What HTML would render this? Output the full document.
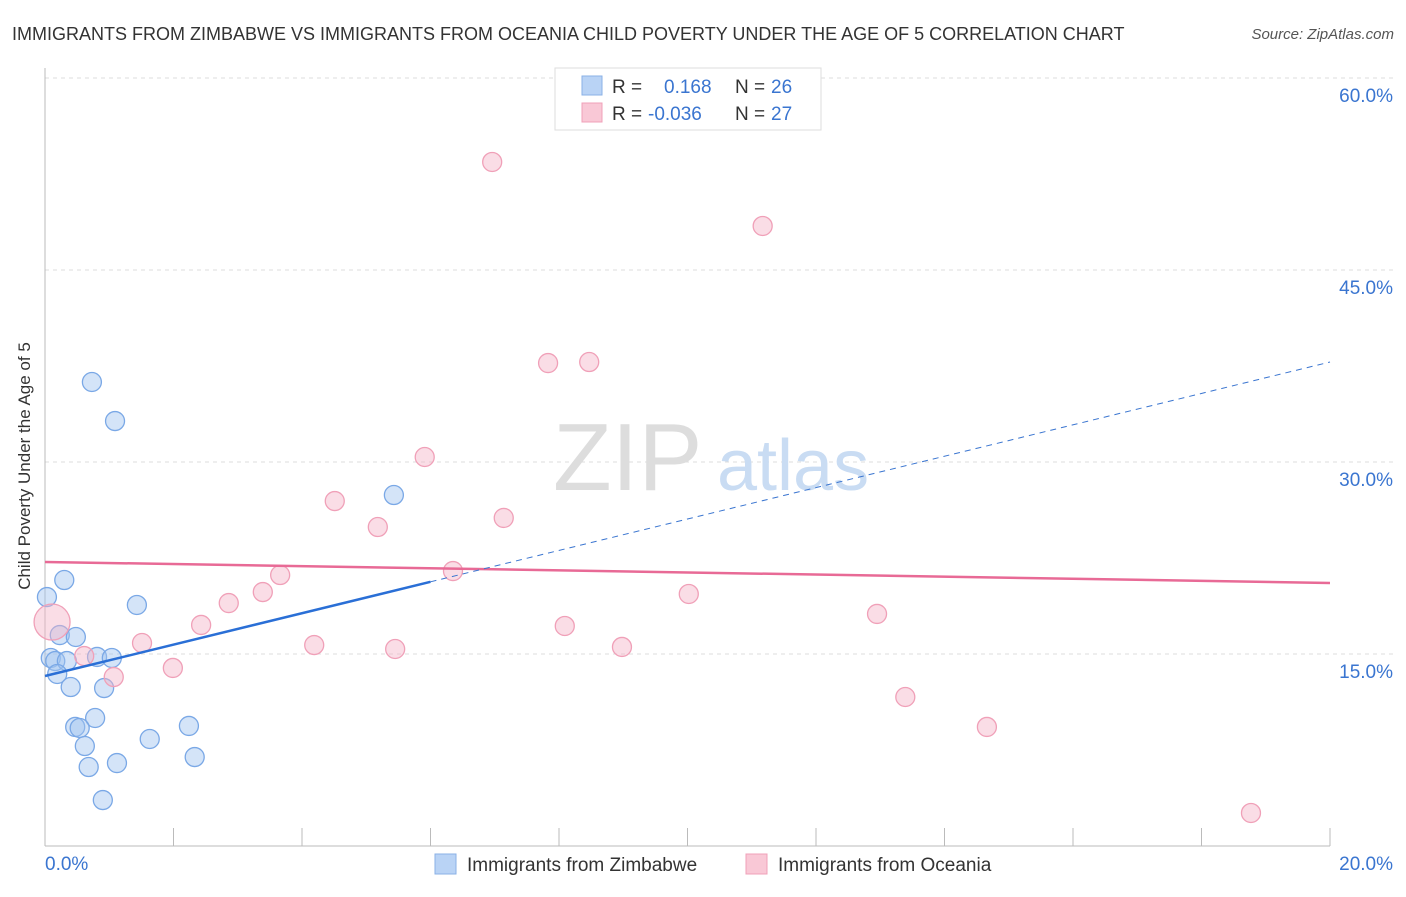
<!DOCTYPE html>
<html><head><meta charset="utf-8"><style>
body{margin:0;background:#fff;font-family:"Liberation Sans",sans-serif}
svg text{font-family:"Liberation Sans",sans-serif}
</style></head><body>
<svg width="1406" height="892">
<text x="12" y="40" font-size="18" fill="#333">IMMIGRANTS FROM ZIMBABWE VS IMMIGRANTS FROM OCEANIA CHILD POVERTY UNDER THE AGE OF 5 CORRELATION CHART</text>
<text x="1394" y="39" font-size="15" fill="#555" font-style="italic" text-anchor="end">Source: ZipAtlas.com</text>
<g id="grid"></g>
<g><text x="553" y="490" font-size="96" font-family="Liberation Serif" fill="#ddd">ZIP</text><text x="717" y="490" font-size="72" fill="#c9dcf3">atlas</text></g>
<line x1="45" y1="68" x2="45" y2="846" stroke="#bbb"/>
<line x1="45" y1="846" x2="1330" y2="846" stroke="#bbb"/>
<g id="xticks"></g>
<text x="20" y="456" font-size="17" fill="#333" transform="rotate(-90 30 456)" text-anchor="middle">Child Poverty Under the Age of 5</text>
<g id="marks"></g>
<g>
<rect x="555" y="68" width="266" height="62" fill="#fff" stroke="#ddd"/>
<rect x="582" y="76" width="20" height="19" fill="#b9d3f5" stroke="#8ab0e6"/>
<rect x="582" y="103" width="20" height="19" fill="#f9c8d6" stroke="#f0a0b8"/>
<text x="612" y="93" font-size="19" fill="#333">R =</text><text x="664" y="93" font-size="19" fill="#3a75d0">0.168</text>
<text x="735" y="93" font-size="19" fill="#333">N =</text><text x="771" y="93" font-size="19" fill="#3a75d0">26</text>
<text x="612" y="120" font-size="19" fill="#333">R =</text><text x="648" y="120" font-size="19" fill="#3a75d0">-0.036</text>
<text x="735" y="120" font-size="19" fill="#333">N =</text><text x="771" y="120" font-size="19" fill="#3a75d0">27</text>
</g>
<g>
<rect x="435" y="854" width="21" height="20" fill="#b9d3f5" stroke="#8ab0e6"/>
<text x="467" y="871" font-size="19" fill="#333">Immigrants from Zimbabwe</text>
<rect x="746" y="854" width="21" height="20" fill="#f9c8d6" stroke="#f0a0b8"/>
<text x="778" y="871" font-size="19" fill="#333">Immigrants from Oceania</text>
</g>
</svg>
<script>
const yTicks=[15,30,45,60];
const yTickLabels=["15.0%","30.0%","45.0%","60.0%"];
const xTickVals=[2,4,6,8,10,12,14,16,18,20];
const xEndLabels=["0.0%","20.0%"];
const zimX=[0.03,0.30,0.73,1.09,5.43,1.43,0.23,0.48,0.09,0.16,0.34,0.19,0.81,1.04,0.40,0.92,0.78,0.47,0.54,0.62,0.68,1.12,1.63,2.24,2.33,0.90];
const zimY=[19.45,20.78,36.25,33.20,27.42,18.83,16.48,16.33,14.69,14.45,14.45,13.44,14.77,14.69,12.42,12.34,10.00,9.30,9.22,7.81,6.17,6.48,8.36,9.38,6.95,3.59];
const ocX=[0.11,6.96,11.17,7.83,8.47,5.91,4.51,7.14,5.18,3.66,6.35,3.39,2.86,10.02,12.95,2.43,8.09,1.51,4.19,5.45,8.98,0.61,1.99,1.07,13.39,14.66,18.77];
const ocY=[17.5,53.44,48.44,37.73,37.81,30.39,26.95,25.63,24.92,21.17,21.48,19.84,18.98,19.69,18.13,17.27,17.19,15.86,15.70,15.39,15.55,14.84,13.91,13.20,11.64,9.30,2.58];
const zimTrend=[13.28,37.81]; // y at x=0 and x=20
const zimSolidEnd=6.0;
const ocTrend=[22.19,20.55];
const NS="http://www.w3.org/2000/svg";
const X=v=>45+v/20*1285, Y=v=>846-v/15*192;
function mk(t,a,p){const e=document.createElementNS(NS,t);for(const k in a)e.setAttribute(k,a[k]);p.appendChild(e);return e;}
const grid=document.getElementById('grid'),xt=document.getElementById('xticks'),m=document.getElementById('marks'),svg=document.querySelector('svg');
yTicks.forEach((v,i)=>{const l=mk('line',{x1:45,x2:1394,y1:Y(v),y2:Y(v),stroke:'#ddd','stroke-dasharray':'4,4'},grid);


const t=mk('text',{x:1393,y:Y(v)+24,'font-size':19,fill:'#3a75d0','text-anchor':'end'},svg);t.textContent=yTickLabels[i];

});
xTickVals.forEach(v=>{const l=mk('line',{x1:X(v),x2:X(v),y1:828,y2:846,stroke:'#bbb'},xt);

});
[[0,'start',45],[20,'end',1393]].forEach((d,i)=>{const t=mk('text',{x:d[2],y:870,'font-size':19,fill:'#3a75d0','text-anchor':d[1]},svg);t.textContent=xEndLabels[i];

});
zimX.forEach((x,i)=>{const c=mk('circle',{cx:X(x),cy:Y(zimY[i]),r:9.5,fill:'rgba(160,196,240,0.45)',stroke:'#7aa8e6','stroke-width':1.3},m);

});
ocX.forEach((x,i)=>{const c=mk('circle',{cx:X(x),cy:Y(ocY[i]),r:i===0?18:9.5,fill:'rgba(245,180,200,0.45)',stroke:'#f0a0b8','stroke-width':1.3},m);

});
const zy=x=>zimTrend[0]+(zimTrend[1]-zimTrend[0])*x/20;
let l=mk('line',{x1:X(0),y1:Y(ocTrend[0]),x2:X(20),y2:Y(ocTrend[1]),stroke:'#e86a96','stroke-width':2.5},m);


l=mk('line',{x1:X(zimSolidEnd),y1:Y(zy(zimSolidEnd)),x2:X(20),y2:Y(zy(20)),stroke:'#3a75d0','stroke-width':1,'stroke-dasharray':'6,5'},m);


l=mk('line',{x1:X(0),y1:Y(zy(0)),x2:X(zimSolidEnd),y2:Y(zy(zimSolidEnd)),stroke:'#2a6fd6','stroke-width':2.5},m);


</script>
</body></html>
